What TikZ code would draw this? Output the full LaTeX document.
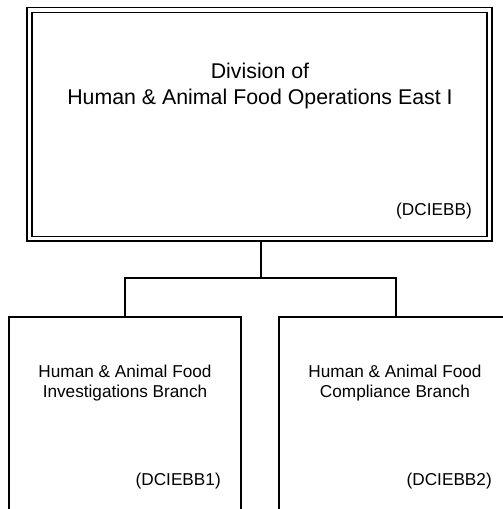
\documentclass[tikz,border=0pt]{standalone}
\usepackage{fontspec}
\setmainfont{Liberation Sans}
\usetikzlibrary{fit}
\tikzset{
  unitbox/.style={draw, line width=1.2pt, inner sep=0pt},
  divbox/.style={draw, double, line width=1.2pt, double distance=2.4pt, inner sep=0pt},
  conn/.style={line width=1.2pt},
  bigtext/.style={font=\fontsize{16}{19.5}\selectfont, align=center, inner sep=0pt},
  smalltext/.style={font=\fontsize{12.9}{15.5}\selectfont, align=center, inner sep=0pt},
}
\begin{document}
\begin{tikzpicture}[x=0.75pt,y=0.75pt,yscale=-1,xscale=1]
\useasboundingbox (0,0) rectangle (502,509);

%Shape: Double Rectangle
\node[divbox, fit={(29.5,10) (489.5,238.8)}] (div) {};
%Shape: Rectangle
\node[unitbox, fit={(9,317) (241,509.5)}] (inv) {};
%Shape: Rectangle
\node[unitbox, fit={(279,317) (513,509.5)}] (comp) {};

%Straight Lines
\coordinate (bus) at (261,278);
\draw[conn] (inv.north) |- (bus) -| (comp.north) (bus) -- (div.south -| bus);

% Text Nodes
\node[bigtext] (divname) at (260,86) {Division of\\Human \& Animal Food Operations East I};
\node[smalltext, anchor=east] (divcode) at (472,211) {(DCIEBB)};
\node[smalltext] (invname) at (125,383) {Human \& Animal Food\\Investigations Branch};
\node[smalltext, anchor=east] (invcode) at (221,481) {(DCIEBB1)};
\node[smalltext] (compname) at (395,383) {Human \& Animal Food\\Compliance Branch};
\node[smalltext, anchor=east] (compcode) at (492,481) {(DCIEBB2)};

\end{tikzpicture}
\end{document}
